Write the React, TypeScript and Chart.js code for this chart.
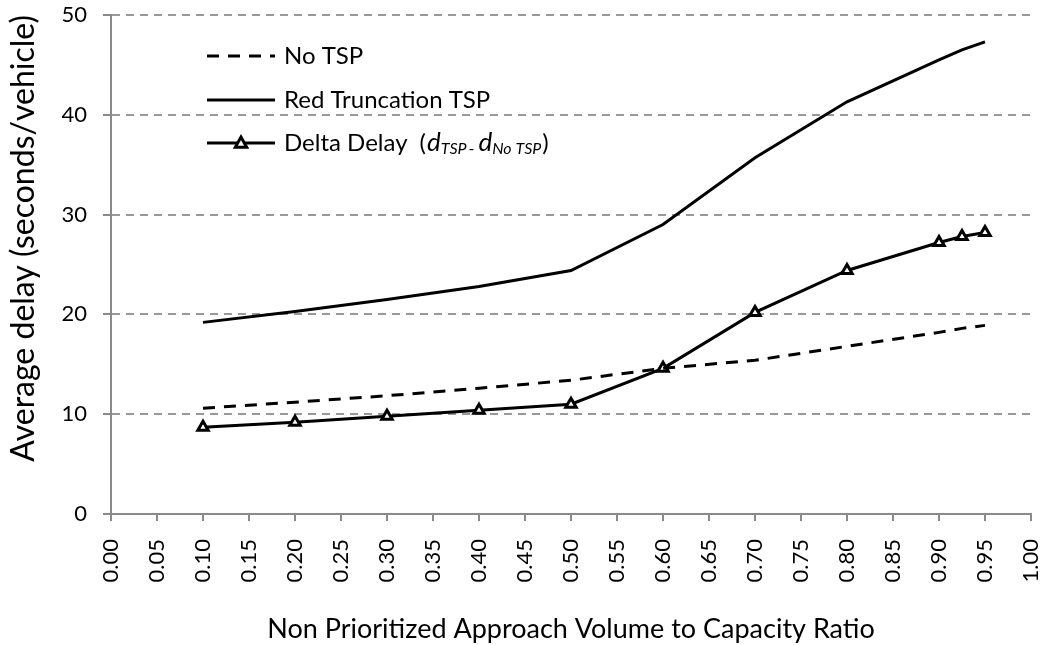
import React, { useEffect, useRef } from "react";
import { Chart, registerables } from "chart.js";

Chart.register(...registerables);

const vcRatio = [0.1, 0.2, 0.3, 0.4, 0.5, 0.6, 0.7, 0.8, 0.9, 0.925, 0.95];
const noTsp = [10.6, 11.2, 11.85, 12.6, 13.4, 14.6, 15.4, 16.8, 18.2, 18.6, 18.9];
const redTruncation = [19.2, 20.3, 21.5, 22.8, 24.4, 29.0, 35.7, 41.3, 45.5, 46.5, 47.3];
const deltaDelay = [8.7, 9.2, 9.8, 10.4, 11.0, 14.6, 20.2, 24.4, 27.2, 27.8, 28.2];

const seriesLabels = ["No TSP", "Red Truncation TSP", "Delta Delay"];
const xTitle = "Non Prioritized Approach Volume to Capacity Ratio";
const yTitle = "Average delay (seconds/vehicle)";

const FONT = "Lato, 'Open Sans', sans-serif";
const GRAY = "#8a8a8a";

const toPoints = (ys: number[]) => vcRatio.map((x, i) => ({ x, y: ys[i] }));

const legendPlugin = {
  id: "insideLegend",
  afterDraw(chart: any) {
    const { ctx, chartArea } = chart;
    const x0 = chartArea.left + 96;
    const x1 = x0 + 68;
    const tx = x1 + 9;
    const rows = [chartArea.top + 41, chartArea.top + 85, chartArea.top + 128];
    ctx.save();
    ctx.strokeStyle = "#000";
    ctx.lineWidth = 3;
    ctx.fillStyle = "#000";
    ctx.textBaseline = "middle";
    ctx.textAlign = "left";
    ctx.setLineDash([12, 9]);
    ctx.beginPath();
    ctx.moveTo(x0, rows[0]);
    ctx.lineTo(x1, rows[0]);
    ctx.stroke();
    ctx.setLineDash([]);
    ctx.beginPath();
    ctx.moveTo(x0, rows[1]);
    ctx.lineTo(x1, rows[1]);
    ctx.stroke();
    ctx.beginPath();
    ctx.moveTo(x0, rows[2]);
    ctx.lineTo(x1, rows[2]);
    ctx.stroke();
    const cx = (x0 + x1) / 2;
    const r = 6;
    ctx.beginPath();
    ctx.moveTo(cx, rows[2] - r);
    ctx.lineTo(cx + r * 0.95, rows[2] + r * 0.7);
    ctx.lineTo(cx - r * 0.95, rows[2] + r * 0.7);
    ctx.closePath();
    ctx.fillStyle = "#fff";
    ctx.fill();
    ctx.stroke();
    ctx.fillStyle = "#000";

    ctx.font = `24px ${FONT}`;
    ctx.fillText(seriesLabels[0], tx, rows[0]);
    ctx.fillText(seriesLabels[1], tx, rows[1]);
    ctx.fillText(seriesLabels[2], tx, rows[2]);
    let px = tx + ctx.measureText(seriesLabels[2]).width + 12;
    ctx.fillText("(", px, rows[2]);
    px += ctx.measureText("(").width + 1;
    ctx.font = `italic 26px ${FONT}`;
    ctx.fillText("d", px, rows[2]);
    px += ctx.measureText("d").width;
    ctx.font = `italic 16px ${FONT}`;
    ctx.fillText("TSP", px, rows[2] + 6);
    px += ctx.measureText("TSP").width + 2;
    ctx.font = `16px ${FONT}`;
    ctx.fillText("-", px, rows[2] + 6);
    px += ctx.measureText("-").width + 4;
    ctx.font = `italic 26px ${FONT}`;
    ctx.fillText("d", px, rows[2]);
    px += ctx.measureText("d").width;
    ctx.font = `italic 16px ${FONT}`;
    ctx.fillText("No TSP", px, rows[2] + 6);
    px += ctx.measureText("No TSP").width + 1;
    ctx.font = `24px ${FONT}`;
    ctx.fillText(")", px, rows[2]);
    ctx.restore();
  },
};

export default function App() {
  const ref = useRef<HTMLCanvasElement | null>(null);
  useEffect(() => {
    if (!ref.current) return;
    const chart = new Chart(ref.current, {
      type: "line",
      data: {
        datasets: [
          {
            label: seriesLabels[0],
            data: toPoints(noTsp),
            borderColor: "#000",
            borderWidth: 3,
            borderDash: [12, 9],
            pointRadius: 0,
            fill: false,
          },
          {
            label: seriesLabels[1],
            data: toPoints(redTruncation),
            borderColor: "#000",
            borderWidth: 3,
            pointRadius: 0,
            fill: false,
          },
          {
            label: seriesLabels[2],
            data: toPoints(deltaDelay),
            borderColor: "#000",
            borderWidth: 3,
            pointStyle: "triangle",
            pointRadius: 6,
            pointBorderWidth: 3,
            pointBackgroundColor: "#fff",
            pointBorderColor: "#000",
            fill: false,
          },
        ],
      },
      options: {
        animation: false,
        responsive: false,
        devicePixelRatio: 1,
        layout: { padding: { left: 0, top: 15, right: 16, bottom: 0 } },
        plugins: { legend: { display: false }, tooltip: { enabled: false } },
        scales: {
          x: {
            type: "linear",
            min: 0,
            max: 1,
            afterFit: (s: any) => {
              s.height = 131;
              s.paddingLeft = 0;
              s.paddingRight = 0;
            },
            ticks: {
              stepSize: 0.05,
              minRotation: 90,
              maxRotation: 90,
              padding: 18,
              color: "#000",
              font: { family: FONT, size: 22 },
              callback: (v: any) => Number(v).toFixed(2),
            },
            grid: {
              drawOnChartArea: false,
              drawTicks: true,
              tickLength: 7,
              color: GRAY,
              lineWidth: 2,
            },
            border: { color: GRAY, width: 2 },
            title: {
              display: true,
              text: xTitle,
              color: "#000",
              font: { family: FONT, size: 27 },
              padding: { top: 0, bottom: 0 },
            },
          },
          y: {
            min: 0,
            max: 50,
            afterFit: (s: any) => {
              s.width = 111;
              s.paddingTop = 0;
              s.paddingBottom = 0;
            },
            ticks: {
              stepSize: 10,
              padding: 16,
              color: "#000",
              font: { family: FONT, size: 22 },
            },
            grid: {
              color: (c: any) => (c.tick && c.tick.value === 0 ? "rgba(0,0,0,0)" : "#999"),
              lineWidth: 2,
              tickBorderDash: [],
              tickColor: GRAY,
              tickLength: 8,
              drawTicks: true,
            },
            border: { color: GRAY, width: 2, dash: [8, 6] },
            title: {
              display: true,
              text: yTitle,
              align: "end",
              color: "#000",
              font: { family: FONT, size: 32 },
              padding: { top: 4, bottom: 0 },
            },
          },
        },
      },
      plugins: [legendPlugin],
    } as any);
    return () => chart.destroy();
  }, []);
  return (
    <div style={{ position: "absolute", left: 0, top: 0, width: 1047, height: 645, background: "#fff" }}>
      <canvas ref={ref} width={1047} height={645} />
    </div>
  );
}
